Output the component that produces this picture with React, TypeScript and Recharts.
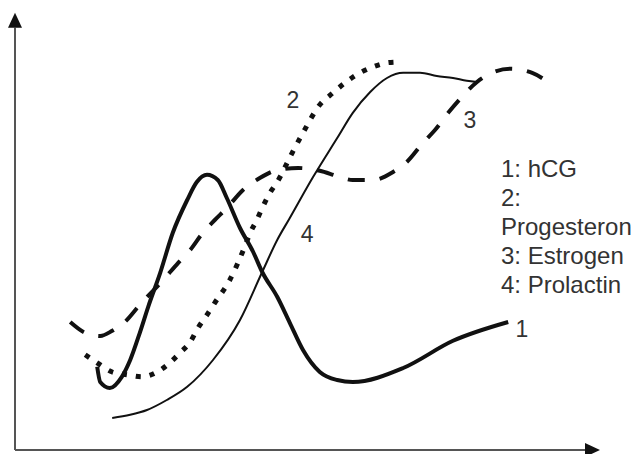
import React from 'react';
import { LineChart, Line, XAxis, YAxis, ReferenceLine, ReferenceDot } from 'recharts';

// time runs 0..100 along x, level 0..110 up y
const hcg = [
  { t: 13.7, v: 20.8 }, { t: 14.2, v: 17 }, { t: 15.8, v: 15.5 }, { t: 17.8, v: 18.3 },
  { t: 19.2, v: 22.5 }, { t: 20.8, v: 29.3 }, { t: 22.2, v: 35.8 }, { t: 24.2, v: 44.3 },
  { t: 26.3, v: 54.3 }, { t: 28.7, v: 62.5 }, { t: 30.3, v: 67 }, { t: 32, v: 68.8 },
  { t: 33.8, v: 67.5 }, { t: 35.3, v: 63 }, { t: 37.5, v: 55.5 }, { t: 39.7, v: 49.5 },
  { t: 41.2, v: 44.5 }, { t: 43.7, v: 38.3 }, { t: 45.8, v: 31.8 }, { t: 48, v: 25 },
  { t: 50.8, v: 19.5 }, { t: 53.7, v: 17.5 }, { t: 56.3, v: 17 }, { t: 64.7, v: 20.5 },
  { t: 73, v: 27.3 }, { t: 82.2, v: 32 },
];

const progesteron = [
  { t: 11.7, v: 23.8 }, { t: 13.7, v: 21.8 }, { t: 16.2, v: 19.5 }, { t: 18.7, v: 18.8 },
  { t: 21.2, v: 18.3 }, { t: 23.7, v: 19.5 }, { t: 25.8, v: 21.8 }, { t: 27.5, v: 24.3 },
  { t: 29.2, v: 27 }, { t: 30.5, v: 30.5 }, { t: 32, v: 33.8 }, { t: 33.3, v: 36.8 },
  { t: 35.8, v: 42.5 }, { t: 38.2, v: 50.5 }, { t: 39.2, v: 54.3 }, { t: 40.3, v: 57.5 },
  { t: 41.3, v: 60.8 }, { t: 42.5, v: 64.3 }, { t: 43.7, v: 67 }, { t: 46.2, v: 74.3 },
  { t: 48, v: 79.3 }, { t: 50.8, v: 86.3 }, { t: 53, v: 89.3 }, { t: 55, v: 91.8 },
  { t: 57.5, v: 94.3 }, { t: 59.7, v: 95.8 }, { t: 62, v: 96.8 }, { t: 63.8, v: 97 },
];

const estrogen = [
  { t: 9.2, v: 32 }, { t: 11.7, v: 29.3 }, { t: 14.2, v: 28.5 }, { t: 16.2, v: 29.8 },
  { t: 18.3, v: 32 }, { t: 20.8, v: 36.3 }, { t: 24.7, v: 42.5 }, { t: 27.2, v: 46.8 },
  { t: 29.2, v: 50 }, { t: 31.3, v: 54.3 }, { t: 33.3, v: 57.5 }, { t: 35.3, v: 60.5 },
  { t: 38, v: 65 }, { t: 40.8, v: 68 }, { t: 43.7, v: 70 }, { t: 47.2, v: 70.5 },
  { t: 50.8, v: 69.8 }, { t: 53.7, v: 68.5 }, { t: 56.3, v: 67.5 }, { t: 59.7, v: 67.5 },
  { t: 63, v: 69.5 }, { t: 65.3, v: 72 }, { t: 68, v: 76.8 }, { t: 70, v: 80 },
  { t: 72.2, v: 84.3 }, { t: 74.5, v: 88.3 }, { t: 77, v: 92 }, { t: 79.5, v: 94.3 },
  { t: 82.5, v: 95.3 }, { t: 86.2, v: 94.3 }, { t: 88.8, v: 92 },
];

const prolactin = [
  { t: 16.2, v: 8 }, { t: 19.2, v: 8.8 }, { t: 22, v: 10 }, { t: 25.3, v: 12.5 },
  { t: 28.7, v: 15.8 }, { t: 33, v: 22.5 }, { t: 37.5, v: 32.5 }, { t: 41.2, v: 44.5 },
  { t: 43.7, v: 52.5 }, { t: 45.8, v: 58 }, { t: 49.7, v: 68.3 }, { t: 53.7, v: 78 },
  { t: 56.3, v: 84.3 }, { t: 59.2, v: 89.5 }, { t: 62, v: 93 }, { t: 64.7, v: 94.3 },
  { t: 67.5, v: 94.3 }, { t: 70.3, v: 93.5 }, { t: 73, v: 93 }, { t: 75.3, v: 92.3 },
  { t: 77, v: 92 },
];

// number tags sitting next to the curves
const curveTags = [
  { name: '2', t: 46.3, v: 87.5 },
  { name: '3', t: 75.8, v: 82.5 },
  { name: '4', t: 48.7, v: 54 },
  { name: '1', t: 84.5, v: 30.3 },
];

const legendLines = ['1: hCG', '2:', 'Progesteron', '3: Estrogen', '4: Prolactin'];

const font = '"Liberation Sans", Arial, sans-serif';
const ink = '#111';

const ArrowLine = (props: any) => {
  const { x1, y1, x2, y2 } = props;
  const dx = x2 - x1;
  const dy = y2 - y1;
  const len = Math.sqrt(dx * dx + dy * dy) || 1;
  const ux = dx / len;
  const uy = dy / len;
  const head = 15;
  const half = 7;
  const bx = x2 - ux * head;
  const by = y2 - uy * head;
  return (
    <g>
      <line x1={x1} y1={y1} x2={bx} y2={by} stroke="#555" strokeWidth={2} />
      <polygon
        points={`${x2},${y2} ${bx - uy * half},${by + ux * half} ${bx + uy * half},${by - ux * half}`}
        fill="#111"
      />
    </g>
  );
};

const Tag = (name: string) => (props: any) => (
  <text
    x={props.cx}
    y={props.cy}
    textAnchor="middle"
    dominantBaseline="central"
    fontFamily={font}
    fontSize={23}
    fill="#333"
  >
    {name}
  </text>
);

export default function App() {
  return (
    <div style={{ position: 'absolute', left: 0, top: 0, width: 639, height: 454, background: '#fff' }}>
      <LineChart width={639} height={454} margin={{ top: 10, right: 24, bottom: 4, left: 15 }}>
        <XAxis type="number" dataKey="t" domain={[0, 100]} hide />
        <YAxis type="number" dataKey="v" domain={[0, 110]} hide />

        <ReferenceLine segment={[{ x: 0, y: 0 }, { x: 0, y: 109.3 }]} shape={ArrowLine} ifOverflow="visible" />
        <ReferenceLine segment={[{ x: 0, y: 0 }, { x: 97.5, y: 0 }]} shape={ArrowLine} ifOverflow="visible" />

        <Line data={prolactin} dataKey="v" type="monotone" stroke={ink} strokeWidth={2} dot={false} isAnimationActive={false} />
        <Line
          data={estrogen}
          dataKey="v"
          type="monotone"
          stroke={ink}
          strokeWidth={4}
          strokeDasharray="17 15"
          dot={false}
          isAnimationActive={false}
        />
        <Line
          data={progesteron}
          dataKey="v"
          type="monotone"
          stroke={ink}
          strokeWidth={5}
          strokeDasharray="5 9"
          dot={false}
          isAnimationActive={false}
        />
        <Line data={hcg} dataKey="v" type="monotone" stroke={ink} strokeWidth={4} dot={false} isAnimationActive={false} />

        {curveTags.map((c) => (
          <ReferenceDot key={c.name} x={c.t} y={c.v} r={0} shape={Tag(c.name)} ifOverflow="visible" />
        ))}
      </LineChart>

      <div
        style={{
          position: 'absolute',
          left: 501,
          top: 154,
          fontFamily: font,
          fontSize: 24,
          lineHeight: '29px',
          color: '#333',
          whiteSpace: 'nowrap',
        }}
      >
        {legendLines.map((l) => (
          <div key={l}>{l}</div>
        ))}
      </div>
    </div>
  );
}
